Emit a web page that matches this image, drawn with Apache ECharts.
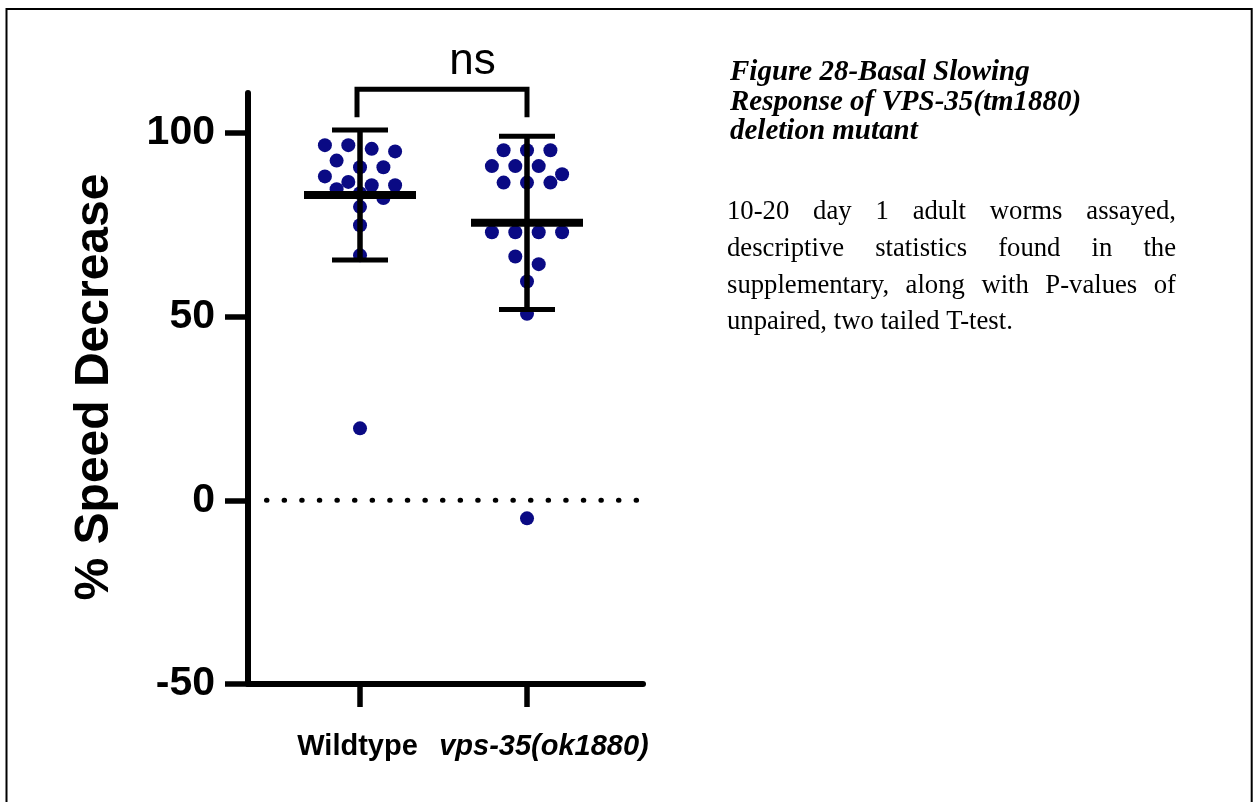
<!DOCTYPE html>
<html>
<head>
<meta charset="utf-8">
<script src="https://cdn.jsdelivr.net/npm/echarts@6/dist/echarts.min.js"></script>
<style>
  html, body { margin: 0; padding: 0; background: #ffffff; }
  #chart { width: 1258px; height: 802px; }
</style>
</head>
<body>
<div id="chart"></div>
<script>
// ---- data ----
const groups = ['Wildtype', 'vps-35(ok1880)'];
const wildtype = [96.7, 96.7, 95.7, 95.0, 92.5, 90.7, 90.7, 88.2, 86.7, 85.8, 85.8, 84.7, 83.6, 82.3, 79.9, 74.9, 66.7, 19.6];
const vps35 = [95.3, 95.3, 95.3, 91.0, 91.0, 91.0, 88.8, 86.5, 86.5, 86.5, 73.0, 73.0, 73.0, 73.0, 66.4, 64.3, 59.6, 50.8, -4.9];
const yTicks = [-50, 0, 50, 100];
const yAxisTitle = '% Speed Decrease';
const sigLabel = 'ns';
const captionTitle = ['Figure 28-Basal Slowing', 'Response of VPS-35(tm1880)', 'deletion mutant'];
const captionBody = [
  '10-20 day 1 adult worms assayed,',
  'descriptive statistics found in the',
  'supplementary, along with P-values of',
  'unpaired, two tailed T-test.'
];

// ---- look ----
const SANS = '"Liberation Sans", Arial, Helvetica, sans-serif';
const SERIF = '"Liberation Serif", "Times New Roman", Times, serif';
const DOT = '#0a0a84';
const X_MIN = 0.3293, X_MAX = 2.6946;
const Y_MIN = -50, Y_MAX = 110.9;
const ROW_PX = 12;         // vertical bin height of the swarm rows
const HALF_LANE_PX = 11.7; // horizontal step between swarm lanes

function stats(arr) {
  const n = arr.length;
  const m = arr.reduce((a, b) => a + b, 0) / n;
  const v = arr.reduce((a, b) => a + (b - m) * (b - m), 0) / (n - 1);
  return [m, Math.sqrt(v)];
}

const chart = echarts.init(document.getElementById('chart'), null, { renderer: 'canvas' });

chart.setOption({
  animation: false,
  backgroundColor: '#ffffff',
  grid: { left: 248, right: 615, top: 93, bottom: 118, containLabel: false },
  xAxis: {
    type: 'value', min: X_MIN, max: X_MAX,
    splitLine: { show: false },
    axisLine: { show: true, onZero: false, lineStyle: { color: '#000', width: 6 } },
    axisTick: { show: false },
    axisLabel: { show: false }
  },
  yAxis: {
    type: 'value', min: Y_MIN, max: Y_MAX,
    splitLine: { show: false },
    axisLine: { show: true, onZero: false, lineStyle: { color: '#000', width: 6 } },
    axisTick: { show: true, customValues: yTicks, length: 23, lineStyle: { color: '#000', width: 5.5 } },
    axisLabel: { customValues: yTicks, margin: 33, color: '#000', fontFamily: SANS, fontWeight: 'bold', fontSize: 41 }
  },
  series: []
});

const toPx = (x, y) => chart.convertToPixel({ gridIndex: 0 }, [x, y]);
const pxPerY = toPx(1, 0)[1] - toPx(1, 1)[1];
const pxPerX = toPx(1, 0)[0] - toPx(0, 0)[0];

// Rows of near-equal values spread symmetrically around the group centre
function swarm(values, center) {
  const sorted = values.slice().sort((a, b) => b - a);
  const rows = [];
  let cur = null;
  sorted.forEach(v => {
    if (!cur || (cur.start - v) * pxPerY >= ROW_PX) {
      cur = { start: v, items: [] };
      rows.push(cur);
    }
    cur.items.push(v);
  });
  const pts = [];
  rows.forEach(r => {
    const n = r.items.length;
    r.items.forEach((v, i) => {
      const lane = 2 * i - (n - 1);
      pts.push([center + lane * HALF_LANE_PX / pxPerX, v]);
    });
  });
  return pts;
}

const wtStats = stats(wildtype);
const mutStats = stats(vps35);
const barData = [[1, wtStats[0], wtStats[1]], [2, mutStats[0], mutStats[1]]];

// mean line, SD whiskers and the category tick under the x axis
function renderBars(params, api) {
  const x = api.value(0), m = api.value(1), s = api.value(2);
  const c = api.coord([x, m]);
  const top = api.coord([x, m + s]);
  const bot = api.coord([x, m - s]);
  const axisY = api.coord([x, Y_MIN])[1];
  const st = w => ({ stroke: '#000', lineWidth: w, fill: null });
  return {
    type: 'group',
    children: [
      { type: 'line', shape: { x1: c[0], y1: top[1], x2: c[0], y2: bot[1] }, style: st(5.5) },
      { type: 'line', shape: { x1: c[0] - 28, y1: top[1], x2: c[0] + 28, y2: top[1] }, style: st(5) },
      { type: 'line', shape: { x1: c[0] - 28, y1: bot[1], x2: c[0] + 28, y2: bot[1] }, style: st(5) },
      { type: 'line', shape: { x1: c[0] - 56, y1: c[1], x2: c[0] + 56, y2: c[1] }, style: st(8) },
      { type: 'line', shape: { x1: c[0], y1: axisY, x2: c[0], y2: axisY + 23 }, style: st(5.5) }
    ]
  };
}

// ---- text ----
const measureCtx = document.createElement('canvas').getContext('2d');
function textWidth(s, font) { measureCtx.font = font; return measureCtx.measureText(s).width; }

const graphics = [];
const TEXT_LEFT = 730, BODY_LEFT = 727, BODY_RIGHT = 1176;
const TITLE_SIZE = 29, BODY_SIZE = 26.7;
const titleFont = 'italic bold ' + TITLE_SIZE + 'px ' + SERIF;
const bodyFont = BODY_SIZE + 'px ' + SERIF;

function textEl(text, x, y, font, align, extra) {
  return Object.assign({
    type: 'text', x: x, y: y, silent: true, z: 100,
    style: { text: text, x: 0, y: 0, font: font, fill: '#000',
      align: align, textAlign: align, verticalAlign: 'middle', textVerticalAlign: 'middle' }
  }, extra || {});
}

// category labels under the x axis
const catFont = 'bold 29px ' + SANS;
const catItalic = 'italic bold 29px ' + SANS;
const axisBase = toPx(1, Y_MIN)[1];
graphics.push(textEl(groups[0], toPx(1, Y_MIN)[0] - 2.5, axisBase + 63, catFont, 'center'));
graphics.push(textEl(groups[1], toPx(2, Y_MIN)[0] + 17, axisBase + 63, catItalic, 'center'));

const titleY = [73, 102.5, 132];
captionTitle.forEach((line, i) => graphics.push(textEl(line, TEXT_LEFT, titleY[i], titleFont, 'left')));

const bodyY = [212, 249, 286, 322];
captionBody.forEach((line, i) => {
  if (i === captionBody.length - 1) {
    graphics.push(textEl(line, BODY_LEFT, bodyY[i], bodyFont, 'left'));
    return;
  }
  const words = line.split(' ');
  const widths = words.map(w => textWidth(w, bodyFont));
  const total = widths.reduce((a, b) => a + b, 0);
  const gap = (BODY_RIGHT - BODY_LEFT - total) / (words.length - 1);
  let x = BODY_LEFT;
  words.forEach((w, k) => {
    graphics.push(textEl(w, x, bodyY[i], bodyFont, 'left'));
    x += widths[k] + gap;
  });
});

// axis title
graphics.push(textEl(yAxisTitle, 95, 387, 'bold 48px ' + SANS, 'center', { rotation: Math.PI / 2 }));

// significance bracket between the two groups
const bL = toPx(1, 111.9), bR = toPx(2, 111.9), legBottom = toPx(1, 104.3)[1];
graphics.push({
  type: 'polyline', silent: true, z: 100,
  shape: { points: [[bL[0] - 3, legBottom], [bL[0] - 3, bL[1]], [bR[0], bR[1]], [bR[0], legBottom]] },
  style: { stroke: '#000', lineWidth: 5, fill: null, lineJoin: 'miter' }
});
graphics.push(textEl(sigLabel, 472.5, 62, '44px ' + SANS, 'center'));

// page frame
graphics.push({
  type: 'rect', silent: true, z: 100,
  shape: { x: 6.5, y: 9, width: 1245.2, height: 900 },
  style: { stroke: '#000', lineWidth: 2, fill: null }
});

chart.setOption({
  series: [
    {
      type: 'line', silent: true, z: 1, symbol: 'none',
      data: [[0.44, 0], [2.66, 0]],
      lineStyle: { color: '#000', width: 5, type: [0.5, 17.1], cap: 'round' }
    },
    {
      name: groups[0], type: 'scatter', z: 2, symbol: 'circle', symbolSize: 14,
      itemStyle: { color: DOT, opacity: 1 }, emphasis: { disabled: true },
      data: swarm(wildtype, 1)
    },
    {
      name: groups[1], type: 'scatter', z: 2, symbol: 'circle', symbolSize: 14,
      itemStyle: { color: DOT, opacity: 1 }, emphasis: { disabled: true },
      data: swarm(vps35, 2)
    },
    {
      type: 'custom', z: 5, silent: true, clip: false,
      renderItem: renderBars,
      data: barData
    }
  ],
  graphic: graphics
});
</script>
</body>
</html>
